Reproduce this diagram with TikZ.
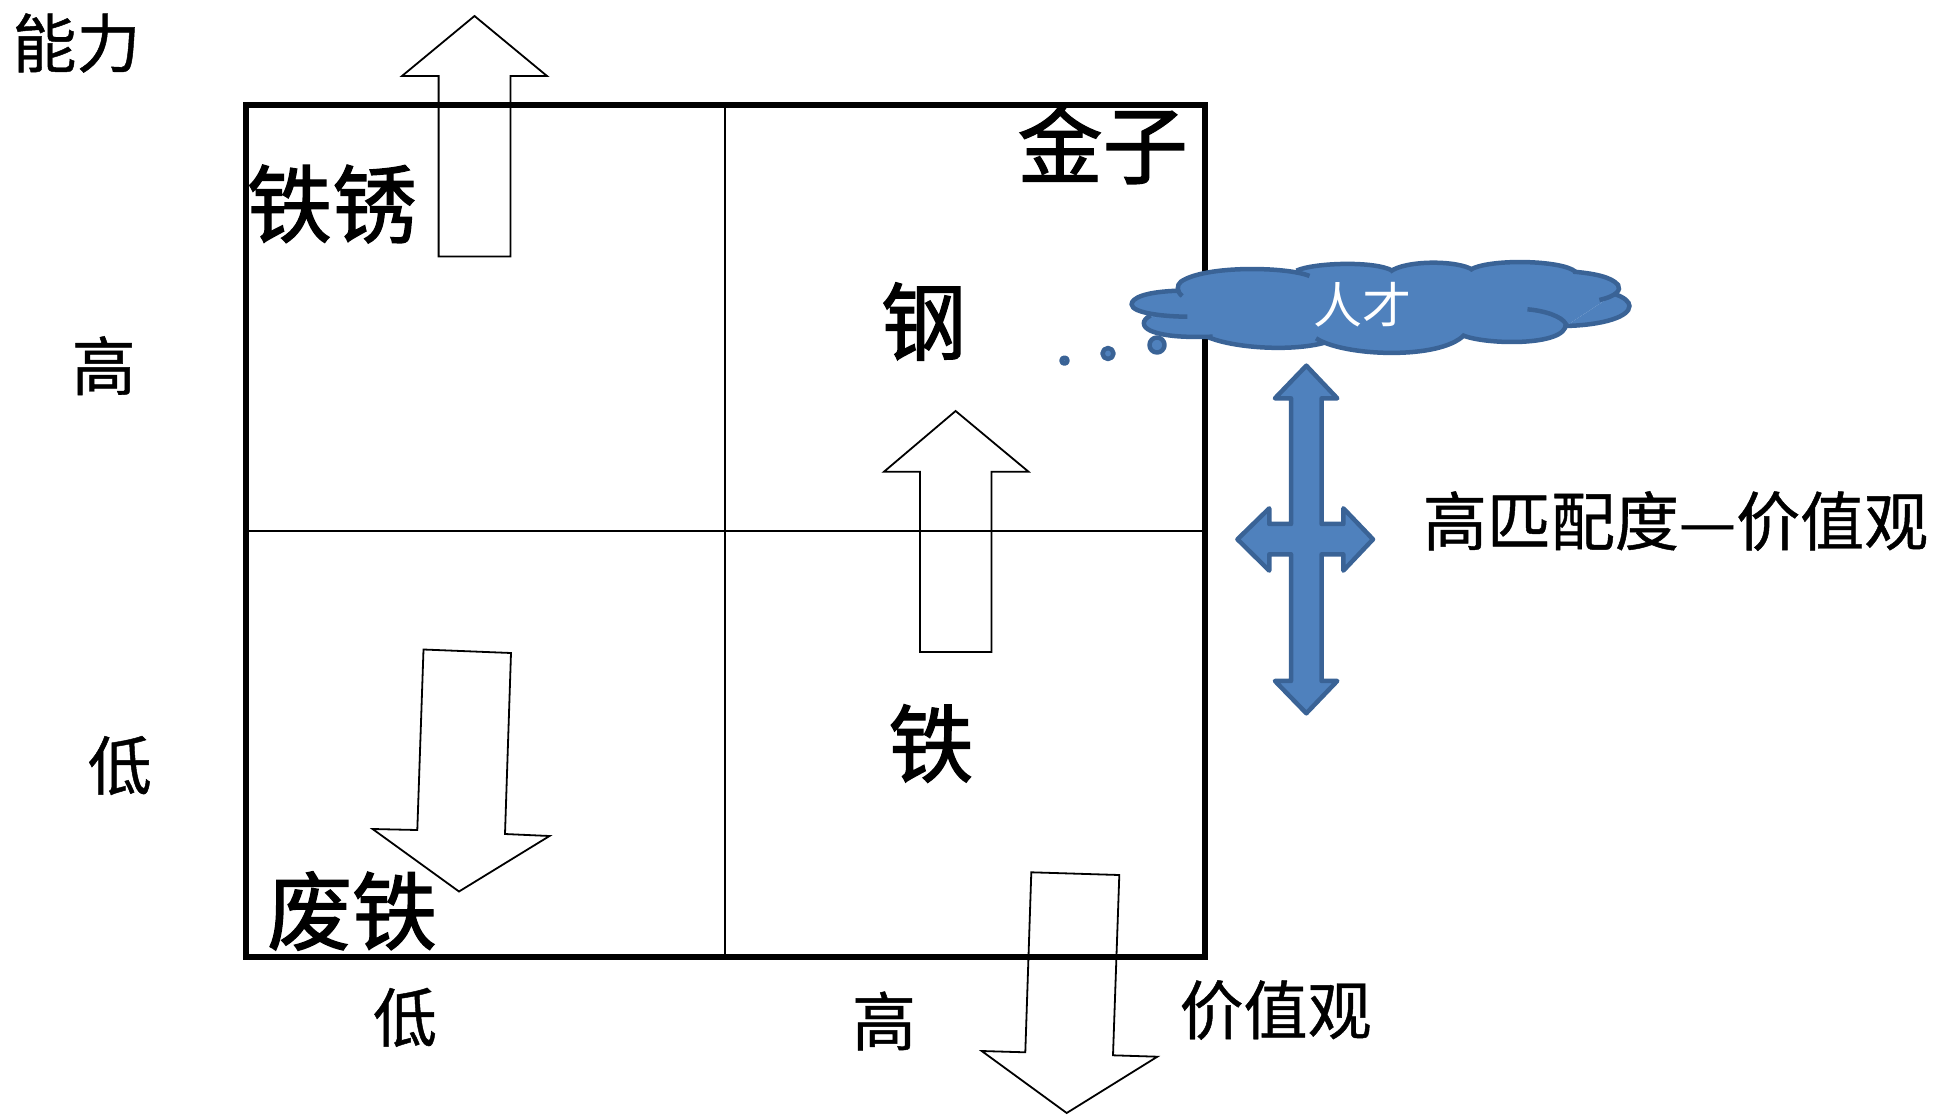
\documentclass[tikz,border=0pt]{standalone}
\usepackage{fontspec}
\setmainfont{Noto Sans CJK SC}
\newfontfamily\bigcjk[FakeBold=1.6]{Noto Sans CJK SC}
\newfontfamily\midcjk[FakeBold=0.7]{Noto Sans CJK SC}
\definecolor{cloudfill}{HTML}{4F81BD}
\definecolor{cloudline}{HTML}{3A6396}
\tikzset{
  big/.style={inner sep=0pt,font=\fontsize{85}{85}\bigcjk},
  mid/.style={inner sep=0pt,font=\fontsize{64}{64}\midcjk},
  hollow/.style={draw=black,line width=1.8pt,line join=miter},
  thin rule/.style={draw=black,line width=2.6pt},
  blue shape/.style={fill=cloudfill,draw=cloudline,line width=4.5pt,line join=round}
}
\newcommand\cloudpaths[1]{%
  #1{(412,212) .. controls (330,215) and (302,235) .. (302,253) .. controls (302,280) and (380,290) .. (430,290)}%
  #1{(345,287) .. controls (325,300) and (325,320) .. (345,332) .. controls (380,352) and (440,352) .. (488,350)}%
  #1{(478,352) .. controls (540,385) and (670,395) .. (745,368)}%
  #1{(725,355) .. controls (790,410) and (1010,420) .. (1065,345)}%
  #1{(1060,345) .. controls (1110,375) and (1300,380) .. (1298,312) .. controls (1290,290) and (1250,272) .. (1210,268)}%
  #1{(1298,318) .. controls (1385,315) and (1444,290) .. (1444,258) .. controls (1444,245) and (1432,232) .. (1410,222)}%
  #1{(1375,240) .. controls (1415,228) and (1425,210) .. (1418,195) .. controls (1403,170) and (1360,160) .. (1315,155)}%
  #1{(1320,155) .. controls (1290,120) and (1120,115) .. (1078,150)}%
  #1{(1085,150) .. controls (1050,120) and (930,120) .. (895,155)}%
  #1{(900,152) .. controls (860,122) and (720,128) .. (680,152)}%
  #1{(710,168) .. controls (660,140) and (470,135) .. (415,185) .. controls (405,195) and (405,215) .. (418,228)}%
}
\newcommand\lobefill[1]{\fill[cloudfill] #1 -- cycle;}
\newcommand\lobeline[1]{\draw[cloudline,line width=4.5pt] #1;}
\begin{document}
\begin{tikzpicture}[x=1pt,y=-1pt]
\useasboundingbox (0,0) rectangle (1936,1114);
% quadrant frame
\coordinate (tl) at (245.7,105);
\coordinate (tr) at (1205,105);
\coordinate (bl) at (245.7,957);
\coordinate (br) at (1205,957);
\coordinate (tm) at (724.8,105);
\coordinate (bm) at (724.8,957);
\coordinate (lm) at (245.7,531);
\coordinate (rm) at (1205,531);
\draw[thin rule] (tm) -- (bm);
\draw[thin rule] (lm) -- (rm);
\draw[black,line width=6pt] (tl) rectangle (br);
% hollow arrows
\draw[hollow] (474.5,16) -- (547,76) -- (510.5,76) -- (510.5,256.5) -- (438.6,256.5) -- (438.6,76) -- (402,76) -- cycle;
\draw[hollow] (955.6,411) -- (1028.5,471.7) -- (991.5,471.7) -- (991.5,652) -- (920,652) -- (920,471.7) -- (884,471.7) -- cycle;
\draw[hollow] (423.5,649.5) -- (511,653) -- (505,834) -- (549.5,836) -- (459,891.5) -- (372.6,829) -- (417.3,830) -- cycle;
\draw[hollow] (1031.3,872.3) -- (1119.3,875) -- (1113,1055.3) -- (1157.3,1056.7) -- (1066.7,1113) -- (981.7,1051) -- (1025.3,1052.3) -- cycle;
% cloud and thought bubbles
\begin{scope}[shift={(1000,220)},x=0.4359pt,y=-0.3333pt]
\fill[cloudfill] (412,212) -- (415,180) -- (570,155) -- (680,150) -- (790,135) -- (895,150) -- (1000,135) -- (1078,147) -- (1200,130) -- (1320,152) -- (1410,222) -- (1298,318) -- (1180,360) -- (1065,350) -- (890,390) -- (745,372) -- (610,375) -- (478,356) -- (345,287) -- cycle;
\cloudpaths\lobefill
\cloudpaths\lobeline
\end{scope}
\draw[blue shape] (1157,345) circle (7.5pt);
\draw[blue shape] (1108,353.5) circle (5.5pt);
\draw[blue shape] (1064.5,360.6) circle (3pt);
% double cross arrow
\begin{scope}[shift={(999,220)},x=0.4359pt,y=-0.3333pt]
\draw[blue shape] (705,437) -- (776,535) -- (740,535) -- (740,912) -- (790,912) -- (790,865) -- (858,958) -- (790,1052) -- (790,1003) -- (740,1003) -- (740,1383) -- (776,1383) -- (705,1480) -- (633,1383) -- (670,1383) -- (670,1003) -- (620,1003) -- (620,1052) -- (547,958) -- (620,865) -- (620,912) -- (670,912) -- (670,535) -- (633,535) -- cycle;
\end{scope}
% labels
\node[mid] (ability) at (76.5,43) {能力};
\node[big] (rust) at (332,204) {铁锈};
\node[big] (gold) at (1102.6,144.5) {金子};
\node[big] (steel) at (923.6,321.5) {钢};
\node[big] (iron) at (931,743.5) {铁};
\node[big] (scrap) at (352,911) {废铁};
\node[mid] (lefthigh) at (103.7,365.7) {高};
\node[mid] (leftlow) at (119.8,765.5) {低};
\node[mid] (botlow) at (405,1017.4) {低};
\node[mid] (bothigh) at (884,1021) {高};
\node[mid] (value) at (1275.5,1010) {价值观};
\node[mid] (match) at (1675.5,521) {高匹配度—价值观};
\node[inner sep=0pt,text=white,font=\fontsize{49}{49}\selectfont] (talent) at (1362,305) {人才};
\end{tikzpicture}
\end{document}
